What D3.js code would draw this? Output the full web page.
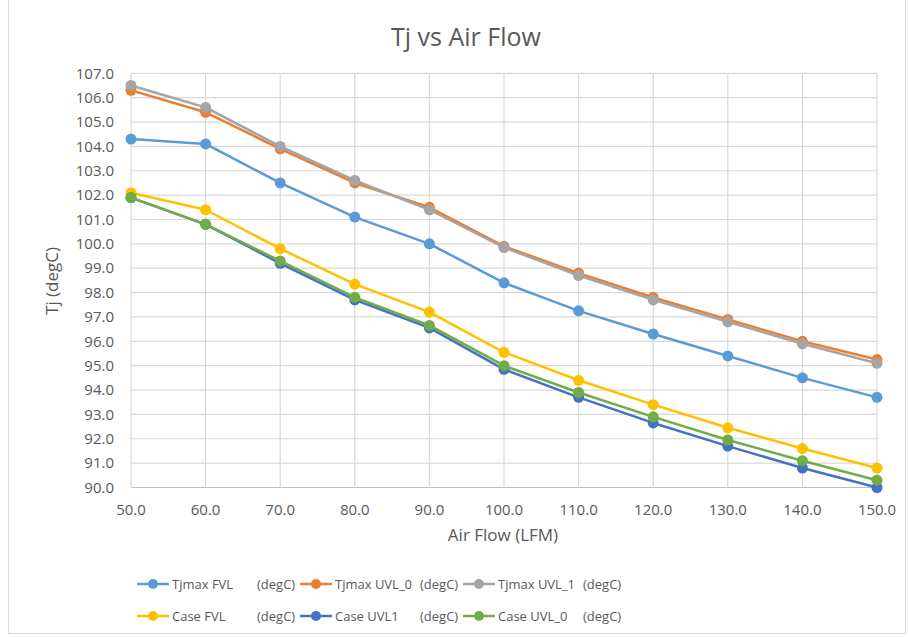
<!DOCTYPE html>
<html>
<head>
<meta charset="utf-8">
<script src="https://cdn.jsdelivr.net/npm/d3@7"></script>
<style>
  body { margin: 0; background: #fff; }
  text { font-family: "Open Sans", sans-serif; }
</style>
</head>
<body>
<div id="chart"></div>
<script>
const airFlow = [50, 60, 70, 80, 90, 100, 110, 120, 130, 140, 150];

const tjmaxFVL  = [104.3, 104.1, 102.5, 101.1, 100.0, 98.4, 97.25, 96.3, 95.4, 94.5, 93.7];
const tjmaxUVL0 = [106.3, 105.4, 103.9, 102.5, 101.5, 99.9, 98.8, 97.8, 96.9, 96.0, 95.25];
const tjmaxUVL1 = [106.5, 105.6, 104.0, 102.6, 101.4, 99.85, 98.7, 97.7, 96.8, 95.9, 95.1];
const caseFVL   = [102.1, 101.4, 99.8, 98.35, 97.2, 95.55, 94.4, 93.4, 92.45, 91.6, 90.8];
const caseUVL1  = [101.9, 100.8, 99.2, 97.7, 96.55, 94.85, 93.7, 92.65, 91.7, 90.8, 90.0];
const caseUVL0  = [101.9, 100.8, 99.3, 97.8, 96.65, 95.0, 93.9, 92.9, 91.95, 91.1, 90.3];

const seriesNames = ["Tjmax FVL", "Tjmax UVL_0", "Tjmax UVL_1", "Case FVL", "Case UVL1", "Case UVL_0"];
const seriesValues = [tjmaxFVL, tjmaxUVL0, tjmaxUVL1, caseFVL, caseUVL1, caseUVL0];
const seriesColors = ["#5B9BD5", "#ED7D31", "#A5A5A5", "#FFC000", "#4472C4", "#70AD47"];

const width = 909, height = 637;
const svg = d3.select("#chart").append("svg")
  .attr("width", width)
  .attr("height", height);

// chart border
svg.append("rect")
  .attr("x", 8.5).attr("y", -2)
  .attr("width", 897).attr("height", 635.5)
  .attr("fill", "#fff")
  .attr("stroke", "#d9d9d9");

const x = d3.scaleLinear().domain([50, 150]).range([131, 877]);
const y = d3.scaleLinear().domain([90, 107]).range([487.5, 73.3]);
const yTicks = d3.range(90, 107.01, 1);

// gridlines
svg.append("g")
  .selectAll("line")
  .data(yTicks)
  .join("line")
  .attr("x1", x(50)).attr("x2", x(150))
  .attr("y1", d => y(d)).attr("y2", d => y(d))
  .attr("stroke", d => d === 90 ? "#bfbfbf" : "#d9d9d9")
  .attr("stroke-width", 1.2);

svg.append("g")
  .selectAll("line")
  .data(airFlow)
  .join("line")
  .attr("x1", d => x(d)).attr("x2", d => x(d))
  .attr("y1", y(107)).attr("y2", y(90))
  .attr("stroke", "#d9d9d9")
  .attr("stroke-width", 1.2);

// y tick labels
svg.append("g")
  .selectAll("text")
  .data(yTicks)
  .join("text")
  .attr("x", 114)
  .attr("y", d => y(d))
  .attr("dy", "0.35em")
  .attr("text-anchor", "end")
  .attr("fill", "#595959")
  .style("font-size", "15px")
  .text(d => d.toFixed(1));

// x tick labels
svg.append("g")
  .selectAll("text")
  .data(airFlow)
  .join("text")
  .attr("x", d => x(d))
  .attr("y", 515)
  .attr("text-anchor", "middle")
  .attr("fill", "#595959")
  .style("font-size", "15px")
  .text(d => d.toFixed(1));

// title and axis titles
svg.append("text")
  .attr("x", 466).attr("y", 46)
  .attr("text-anchor", "middle")
  .attr("fill", "#595959")
  .style("font-size", "25px")
  .text("Tj vs Air Flow");

svg.append("text")
  .attr("x", 503).attr("y", 541)
  .attr("text-anchor", "middle")
  .attr("fill", "#595959")
  .style("font-size", "17px")
  .text("Air Flow (LFM)");

svg.append("text")
  .attr("transform", "translate(58,281) rotate(-90)")
  .attr("text-anchor", "middle")
  .attr("fill", "#595959")
  .style("font-size", "17px")
  .text("Tj (degC)");

// series
const line = d3.line()
  .x((d, i) => x(airFlow[i]))
  .y(d => y(d));

seriesValues.forEach((vals, k) => {
  const g = svg.append("g");
  g.append("path")
    .datum(vals)
    .attr("d", line)
    .attr("fill", "none")
    .attr("stroke", seriesColors[k])
    .attr("stroke-width", 2.5)
    .attr("stroke-linejoin", "round");
  g.selectAll("circle")
    .data(vals)
    .join("circle")
    .attr("cx", (d, i) => x(airFlow[i]))
    .attr("cy", d => y(d))
    .attr("r", 5.5)
    .attr("fill", seriesColors[k]);
});

// legend
const legendCols = [137, 300, 463];
const legendRows = [584, 616];
seriesNames.forEach((name, k) => {
  const lx = legendCols[k % 3];
  const ly = legendRows[Math.floor(k / 3)];
  const g = svg.append("g");
  g.append("line")
    .attr("x1", lx).attr("x2", lx + 32)
    .attr("y1", ly).attr("y2", ly)
    .attr("stroke", seriesColors[k])
    .attr("stroke-width", 2.5);
  g.append("circle")
    .attr("cx", lx + 16).attr("cy", ly)
    .attr("r", 5)
    .attr("fill", seriesColors[k]);
  g.append("text")
    .attr("x", lx + 35).attr("y", ly)
    .attr("dy", "0.35em")
    .attr("fill", "#595959")
    .style("font-size", "13px")
    .text(name);
  g.append("text")
    .attr("x", lx + 120).attr("y", ly)
    .attr("dy", "0.35em")
    .attr("fill", "#595959")
    .style("font-size", "13px")
    .text("(degC)");
});
</script>
</body>
</html>
